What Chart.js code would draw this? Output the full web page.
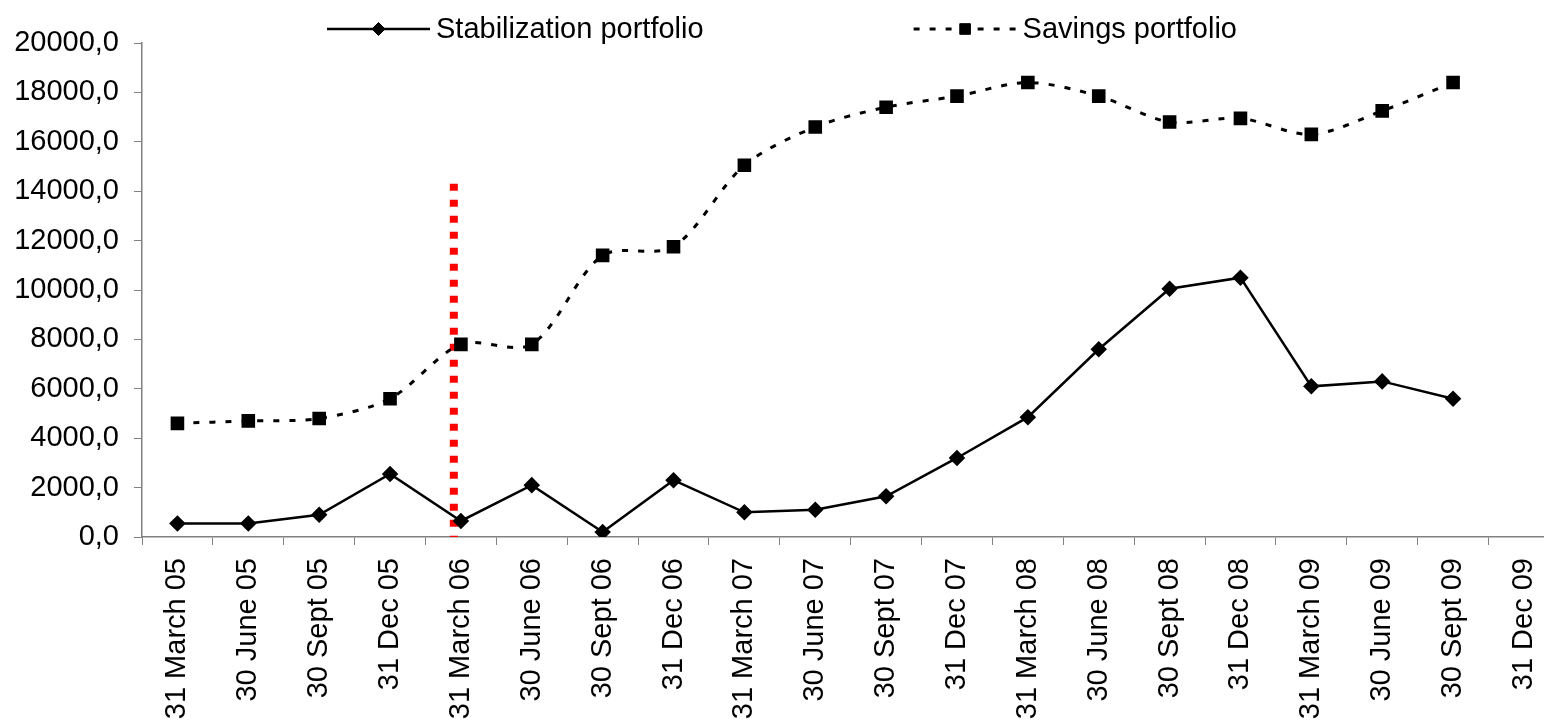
<!DOCTYPE html>
<html>
<head>
<meta charset="utf-8">
<title>Stabilization and savings portfolios</title>
<script src="https://cdn.jsdelivr.net/npm/chart.js@4.4.0/dist/chart.umd.min.js"></script>
<style>
    html, body { margin: 0; padding: 0; background: #fff; overflow: hidden; }
    #wrap { width: 1572px; height: 723px; }
</style>
</head>
<body>
<div id="wrap"><canvas id="portfolioChart"></canvas></div>
<script>
// quarter-end dates on the x axis
const quarters = [
    '31 March 05', '30 June 05', '30 Sept 05', '31 Dec 05',
    '31 March 06', '30 June 06', '30 Sept 06', '31 Dec 06',
    '31 March 07', '30 June 07', '30 Sept 07', '31 Dec 07',
    '31 March 08', '30 June 08', '30 Sept 08', '31 Dec 08',
    '31 March 09', '30 June 09', '30 Sept 09', '31 Dec 09'
];

const stabilization = [550, 550, 900, 2550, 650, 2100, 200, 2300, 1000, 1100,
    1650, 3200, 4850, 7600, 10050, 10500, 6100, 6300, 5600, null];

const savings = [4600, 4700, 4800, 5600, 7800, 7800, 11400, 11750, 15050, 16600,
    17400, 17850, 18400, 17850, 16800, 16950, 16300, 17250, 18400, null];

const yMin = 0;
const yMax = 20000;
const yStep = 2000;

// red dotted marker: position in category units and its top value
const markerAt = 3.9;
const markerTop = 14300;

const FONT = '"Liberation Sans", Arial, sans-serif';
const AXIS_GREY = '#808080';

// legend with a line sample and the point marker in the middle, like the original
const lineLegend = {
    id: 'lineLegend',
    afterDraw(chart) {
        const ctx = chart.ctx;
        const sampleW = 103, textGap = 6, spacing = 210, y = 29;
        let x = 327;
        ctx.save();
        ctx.font = '29px ' + FONT;
        ctx.textBaseline = 'middle';
        chart.data.datasets.filter(d => d.inLegend).forEach(d => {
            ctx.strokeStyle = d.borderColor;
            ctx.lineWidth = d.borderWidth;
            ctx.setLineDash(d.borderDash || []);
            ctx.beginPath();
            ctx.moveTo(x, y);
            ctx.lineTo(x + sampleW, y);
            ctx.stroke();
            ctx.setLineDash([]);
            ctx.fillStyle = d.pointBackgroundColor;
            ctx.strokeStyle = d.pointBorderColor;
            ctx.lineWidth = 1;
            Chart.helpers.drawPoint(ctx, {
                pointStyle: d.pointStyle, radius: d.pointRadius, rotation: 0, borderWidth: 1
            }, x + sampleW / 2, y);
            ctx.fillStyle = '#000';
            ctx.fillText(d.label, x + sampleW + textGap, y + 1);
            x += sampleW + textGap + ctx.measureText(d.label).width + spacing;
        });
        ctx.restore();
    }
};

new Chart(document.getElementById('portfolioChart'), {
    type: 'line',
    data: {
        labels: quarters,
        datasets: [
            {
                label: 'Stabilization portfolio',
                inLegend: true,
                data: stabilization,
                borderColor: '#000',
                borderWidth: 2.5,
                tension: 0,
                pointStyle: 'rectRot',
                pointRadius: 6.5,
                pointBackgroundColor: '#000',
                pointBorderColor: '#000',
                order: 1
            },
            {
                label: 'Savings portfolio',
                inLegend: true,
                data: savings,
                borderColor: '#000',
                borderWidth: 3,
                borderDash: [6, 10],
                tension: 0.3,
                pointStyle: 'rect',
                pointRadius: 7.5,
                pointBackgroundColor: '#000',
                pointBorderColor: '#000',
                order: 2
            },
            {
                label: 'marker',
                inLegend: false,
                xAxisID: 'xr',
                data: [{ x: markerAt, y: markerTop }, { x: markerAt, y: yMin }],
                borderColor: '#ff0000',
                borderWidth: 8,
                borderDash: [7, 9],
                borderCapStyle: 'butt',
                pointRadius: 0,
                clip: false,
                order: 3
            }
        ]
    },
    options: {
        responsive: true,
        maintainAspectRatio: false,
        animation: false,
        layout: { padding: { top: 43, right: 2, left: 0, bottom: 0 } },
        plugins: {
            legend: { display: false },
            tooltip: { enabled: false }
        },
        scales: {
            x: {
                type: 'category',
                offset: true,
                grid: {
                    offset: true,
                    drawOnChartArea: false,
                    drawTicks: true,
                    tickLength: 8,
                    color: AXIS_GREY
                },
                border: { color: AXIS_GREY, width: 1.5 },
                ticks: {
                    color: '#000',
                    font: { family: FONT, size: 29 },
                    minRotation: 90,
                    maxRotation: 90,
                    autoSkip: false,
                    padding: 13
                },
                afterFit: s => { s.height = 186; }
            },
            xr: {
                type: 'linear',
                display: false,
                min: -0.5,
                max: quarters.length - 0.5
            },
            y: {
                min: yMin,
                max: yMax,
                grid: {
                    drawOnChartArea: false,
                    drawTicks: true,
                    tickLength: 8,
                    color: AXIS_GREY
                },
                border: { color: AXIS_GREY, width: 1.5 },
                ticks: {
                    stepSize: yStep,
                    color: '#000',
                    font: { family: FONT, size: 29 },
                    padding: 15,
                    callback: v => v.toFixed(1).replace('.', ',')
                },
                afterFit: s => { s.width = 142; }
            }
        }
    },
    plugins: [lineLegend]
});
</script>
</body>
</html>
